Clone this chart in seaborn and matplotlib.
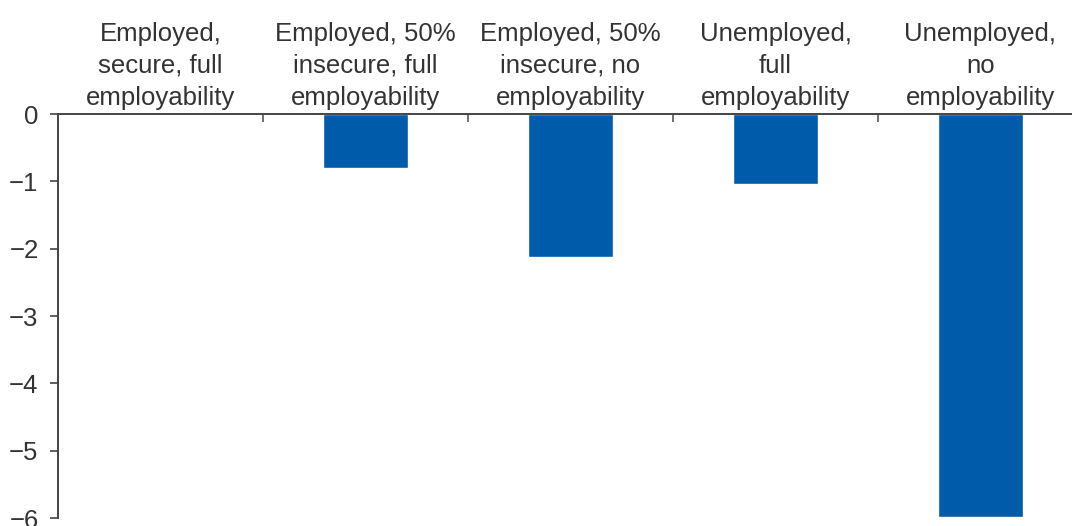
import matplotlib
matplotlib.use("Agg")
import matplotlib.pyplot as plt
import seaborn as sns
import pandas as pd

categories = [
    "Employed,\nsecure, full\nemployability",
    "Employed, 50%\ninsecure, full\nemployability",
    "Employed, 50%\ninsecure, no\nemployability",
    "Unemployed,\nfull\nemployability",
    "Unemployed,\nno\nemployability",
]
values = [0.0, -0.80, -2.12, -1.04, -5.98]
y_ticks = [0, -1, -2, -3, -4, -5, -6]

df = pd.DataFrame({"cat": categories, "val": values})

sns.set_style("white")
plt.rcParams["font.family"] = ["Liberation Sans", "DejaVu Sans"]
text_col = "#333333"

fig = plt.figure(figsize=(10.72, 5.26), dpi=100)
ax = fig.add_axes([58 / 1072, 8 / 526, 1025 / 1072, 404 / 526])

sns.barplot(data=df, x="cat", y="val", color="#005BAA", width=0.41,
            saturation=1, ax=ax)

ax.set_ylim(-6, 0)
ax.set_xlim(-0.5, 4.5)
ax.set_yticks(y_ticks)
ax.set_yticklabels([str(t).replace("-", "\u2212") for t in y_ticks],
                   fontsize=18.5, color=text_col)
ax.set_xlabel("")
ax.set_ylabel("")

ax.xaxis.tick_top()
ax.tick_params(axis="x", which="major", length=0, pad=3, labelsize=18.5,
               labelcolor=text_col)
for lbl in ax.get_xticklabels():
    lbl.set_linespacing(1.42)
ax.set_xticks([0.5, 1.5, 2.5, 3.5], minor=True)
ax.tick_params(axis="x", which="minor", top=True, direction="in", length=6,
               width=1.2, color="#555555")
ax.tick_params(axis="y", which="major", left=True, direction="out", length=6,
               width=1.2, color="#444444", pad=8)

for side in ["right", "bottom"]:
    ax.spines[side].set_visible(False)
for side in ["left", "top"]:
    ax.spines[side].set_color("#444444")
    ax.spines[side].set_linewidth(1.4)

fig.savefig("out.png", dpi=100)
